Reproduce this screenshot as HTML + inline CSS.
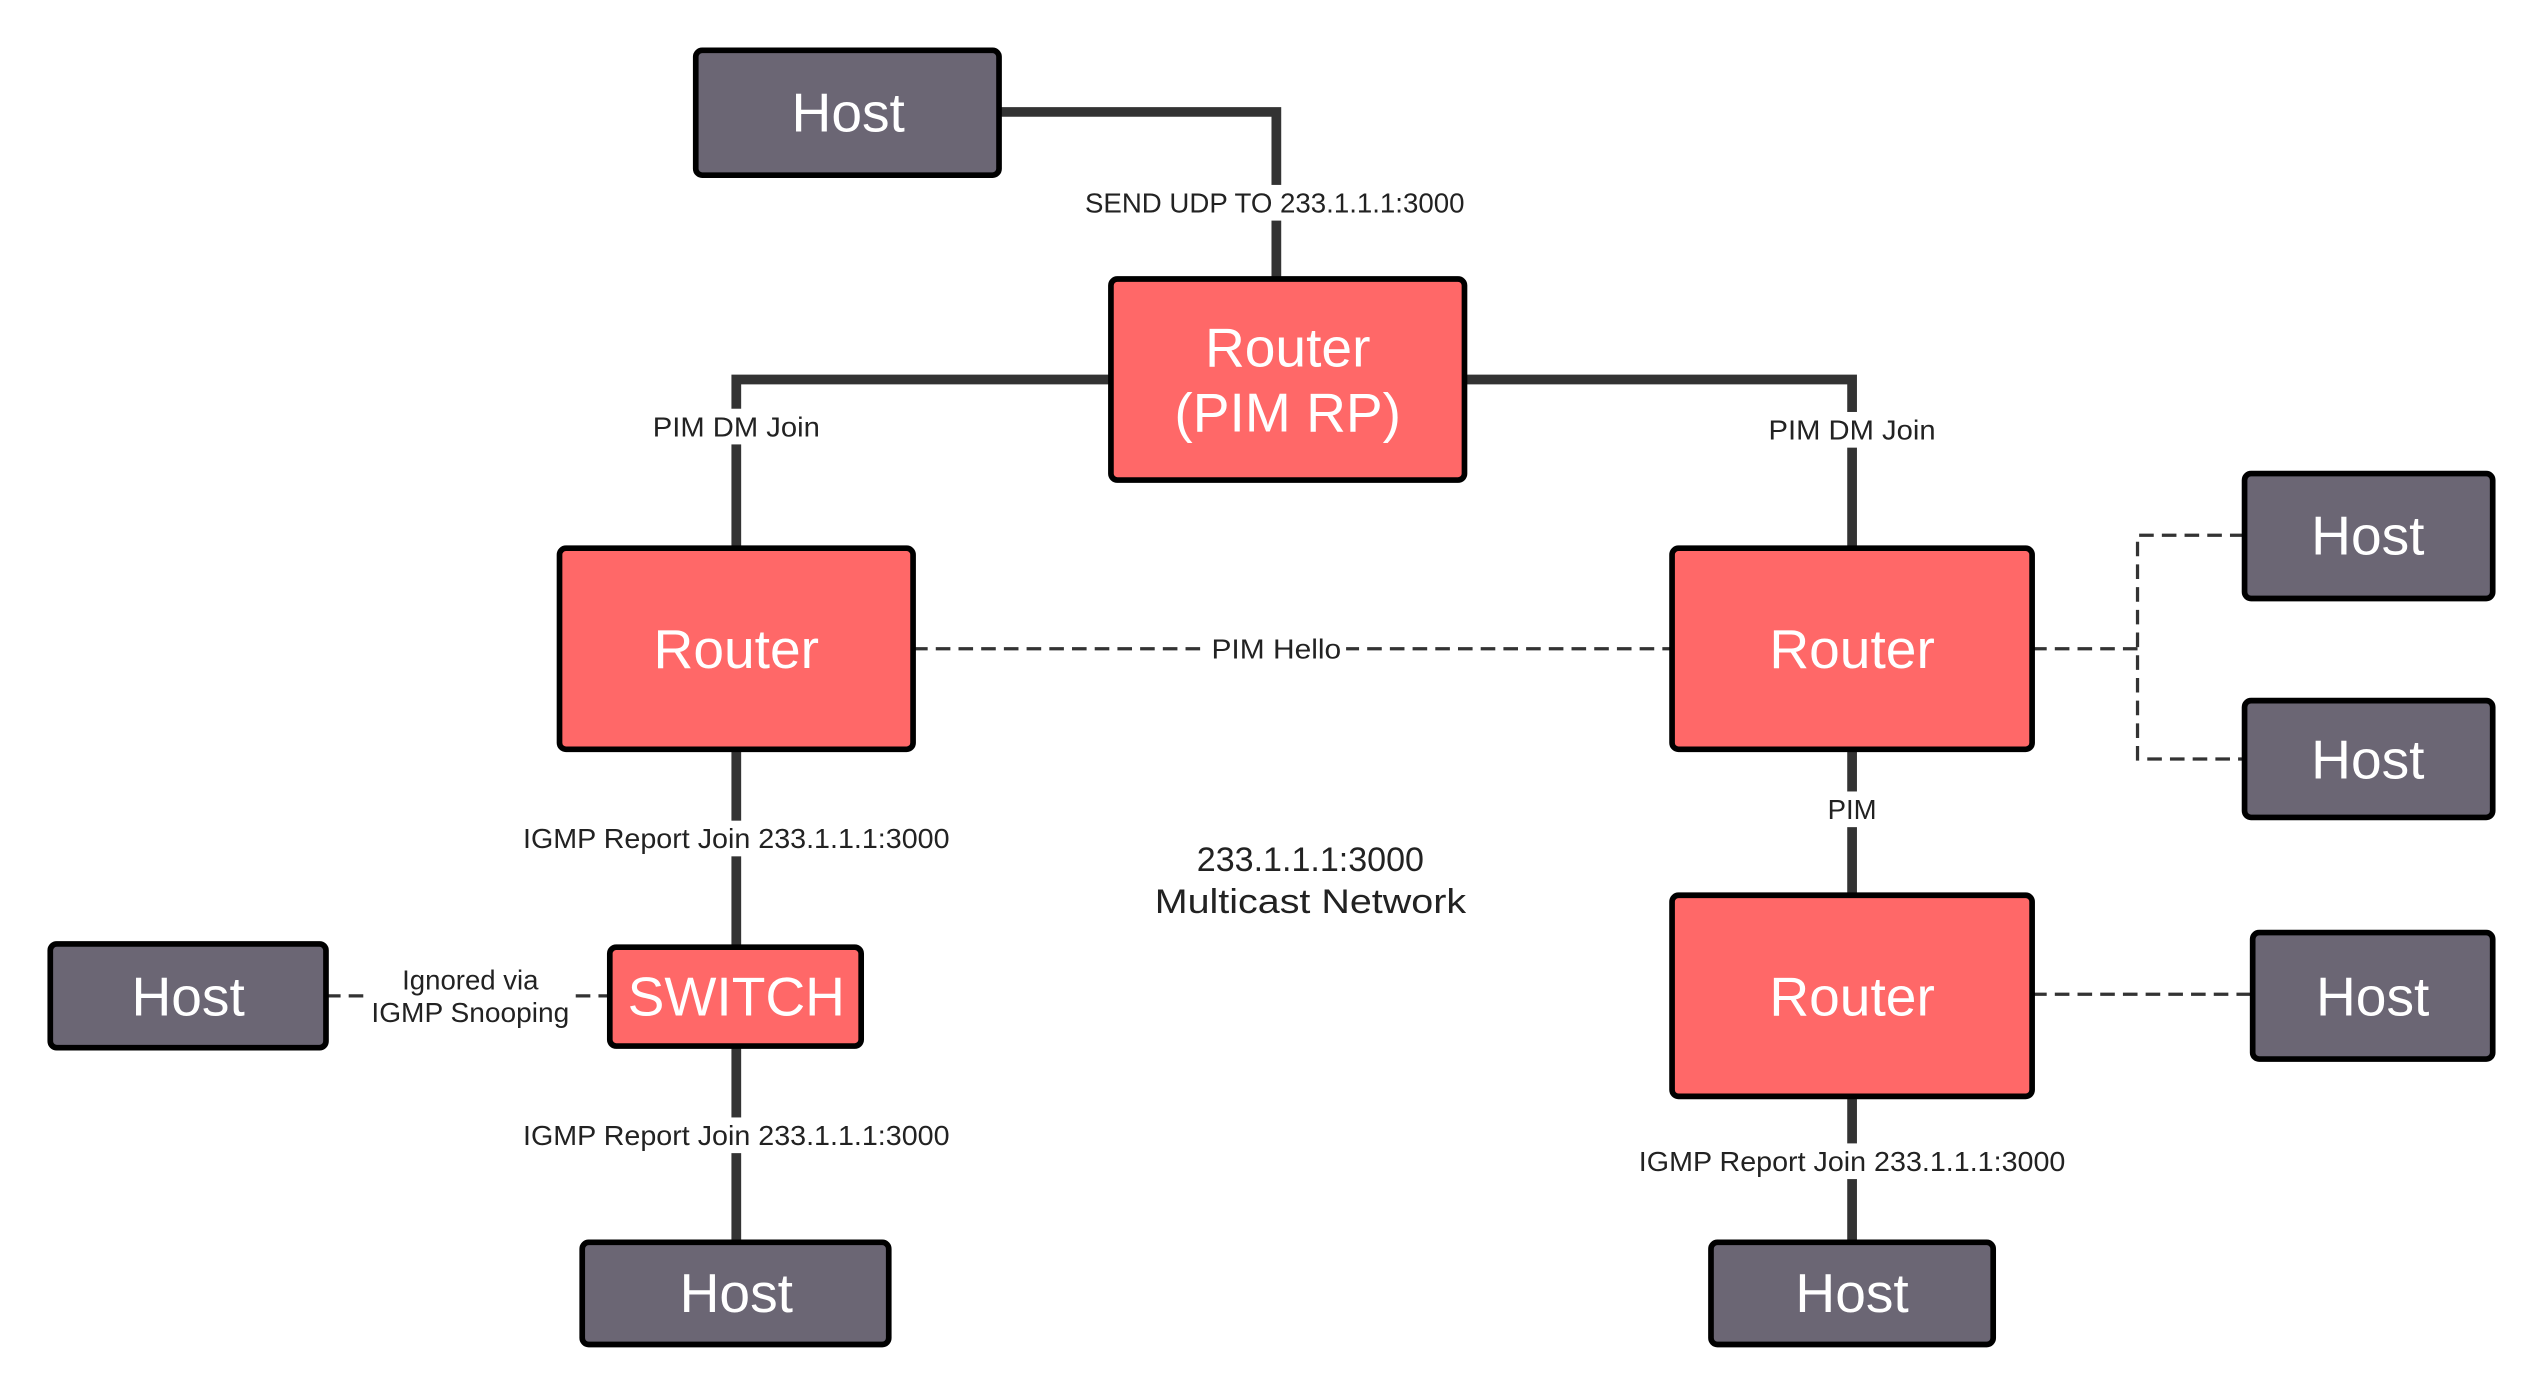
<!DOCTYPE html>
<html><head><meta charset="utf-8"><style>html,body{margin:0;padding:0;background:#fff}svg{display:block}</style></head>
<body>
<svg width="2530" height="1388" viewBox="0 0 1560 855.8" xmlns="http://www.w3.org/2000/svg" font-family="Liberation Sans, sans-serif">
<g stroke="#333" stroke-width="6" fill="none">
<polyline points="616,69 787,69 787,172"/>
<polyline points="685,234 454,234 454,338"/>
<polyline points="903,234 1142,234 1142,338"/>
<line x1="454" y1="462" x2="454" y2="584"/>
<line x1="454" y1="645" x2="454" y2="766"/>
<line x1="1142" y1="462" x2="1142" y2="552"/>
<line x1="1142" y1="676" x2="1142" y2="766"/>
</g>
<g stroke="#333" stroke-width="2" fill="none" stroke-dasharray="9,5">
<line x1="563" y1="400" x2="1031" y2="400"/>
<line x1="201" y1="614" x2="376" y2="614"/>
<polyline points="1253,400 1318,400"/>
<polyline points="1384,330 1318,330 1318,468 1384,468"/>
<line x1="1253" y1="613" x2="1389" y2="613"/>
</g>
<g font-size="17" fill="#222" text-anchor="middle" textLength="0">
<rect x="666" y="114" width="240" height="22" fill="#fff"/><text x="786" y="131" textLength="234" lengthAdjust="spacingAndGlyphs">SEND UDP TO 233.1.1.1:3000</text>
<rect x="400" y="252" width="108" height="22" fill="#fff"/><text x="454" y="269" textLength="103" lengthAdjust="spacingAndGlyphs">PIM DM Join</text>
<rect x="1088" y="254" width="108" height="22" fill="#fff"/><text x="1142" y="271" textLength="103" lengthAdjust="spacingAndGlyphs">PIM DM Join</text>
<rect x="744" y="389" width="86" height="22" fill="#fff"/><text x="787" y="406" textLength="80" lengthAdjust="spacingAndGlyphs">PIM Hello</text>
<rect x="318" y="506" width="272" height="22" fill="#fff"/><text x="454" y="523" textLength="263" lengthAdjust="spacingAndGlyphs">IGMP Report Join 233.1.1.1:3000</text>
<rect x="318" y="689" width="272" height="22" fill="#fff"/><text x="454" y="706" textLength="263" lengthAdjust="spacingAndGlyphs">IGMP Report Join 233.1.1.1:3000</text>
<rect x="1006" y="705" width="272" height="22" fill="#fff"/><text x="1142" y="722" textLength="263" lengthAdjust="spacingAndGlyphs">IGMP Report Join 233.1.1.1:3000</text>
<rect x="1122" y="488" width="40" height="22" fill="#fff"/><text x="1142" y="505">PIM</text>
<rect x="226" y="593" width="128" height="42" fill="#fff"/><text x="290" y="610">Ignored via</text><text x="290" y="630" textLength="122" lengthAdjust="spacingAndGlyphs">IGMP Snooping</text>
<text x="808" y="537" font-size="21">233.1.1.1:3000</text>
<text x="808" y="563" font-size="21" textLength="192" lengthAdjust="spacingAndGlyphs">Multicast Network</text>
</g>
<g stroke="#000" stroke-width="3.5">
<rect x="429" y="31" width="187" height="77" rx="4" fill="#6b6674"/>
<rect x="685" y="172" width="218" height="124" rx="4" fill="#ff6868"/>
<rect x="345" y="338" width="218" height="124" rx="4" fill="#ff6868"/>
<rect x="1031" y="338" width="222" height="124" rx="4" fill="#ff6868"/>
<rect x="1384" y="292" width="153" height="77" rx="4" fill="#6b6674"/>
<rect x="1384" y="432" width="153" height="72" rx="4" fill="#6b6674"/>
<rect x="1031" y="552" width="222" height="124" rx="4" fill="#ff6868"/>
<rect x="1389" y="575" width="148" height="78" rx="4" fill="#6b6674"/>
<rect x="1055" y="766" width="174" height="63" rx="4" fill="#6b6674"/>
<rect x="376" y="584" width="155" height="61" rx="4" fill="#ff6868"/>
<rect x="31" y="582" width="170" height="64" rx="4" fill="#6b6674"/>
<rect x="359" y="766" width="189" height="63" rx="4" fill="#6b6674"/>
</g>
<g fill="#fff" font-size="34" text-anchor="middle">
<text x="523" y="81">Host</text>
<text x="794" y="226">Router</text>
<text x="794" y="266">(PIM RP)</text>
<text x="454" y="412">Router</text>
<text x="1142" y="412">Router</text>
<text x="1460" y="342">Host</text>
<text x="1460" y="480">Host</text>
<text x="1142" y="626">Router</text>
<text x="1463" y="626">Host</text>
<text x="1142" y="809">Host</text>
<text x="454" y="626">SWITCH</text>
<text x="116" y="626">Host</text>
<text x="454" y="809">Host</text>
</g>
</svg>
</body></html>
